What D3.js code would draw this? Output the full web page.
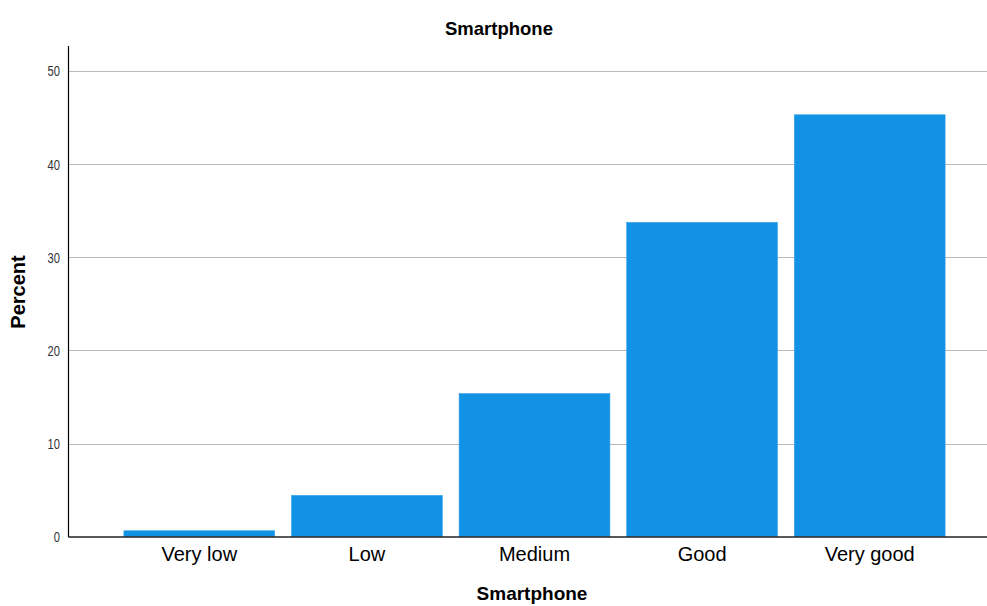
<!DOCTYPE html>
<html>
<head>
<meta charset="utf-8">
<script src="https://cdn.jsdelivr.net/npm/d3@7"></script>
<style>
  html, body { margin: 0; padding: 0; background: #fff; }
  svg { display: block; }
</style>
</head>
<body>
<svg id="chart" width="987" height="606"></svg>
<script>
const categories = ["Very low", "Low", "Medium", "Good", "Very good"];
const percents = [0.64, 4.44, 15.37, 33.75, 45.3];
const yTicks = [0, 10, 20, 30, 40, 50];
const chartTitle = "Smartphone";
const xTitle = "Smartphone";
const yTitle = "Percent";

const svg = d3.select("#chart");
const plotLeft = 68.5, plotRight = 987, plotTop = 46, zeroY = 536.7;

const y = d3.scaleLinear().domain([0, 50]).range([zeroY, 71]);
const x = d3.scaleBand().domain(categories)
  .range([115.5, 953.5]).paddingInner(0.1).paddingOuter(0.05);

// gridlines
svg.append("g").selectAll("line").data(yTicks.filter(d => d > 0)).join("line")
  .attr("x1", plotLeft).attr("x2", plotRight)
  .attr("y1", d => Math.round(y(d)) + 0.5).attr("y2", d => Math.round(y(d)) + 0.5)
  .attr("stroke", "#b9b9b9").attr("stroke-width", 1);

// bars
svg.append("g").selectAll("rect").data(categories).join("rect")
  .attr("x", d => x(d))
  .attr("width", x.bandwidth())
  .attr("y", (d, i) => y(percents[i]))
  .attr("height", (d, i) => zeroY - y(percents[i]))
  .attr("fill", "#1192e5")
  .attr("stroke", "#3aa3ea").attr("stroke-width", 0.6);

// y axis
const yAxis = d3.axisLeft(y).tickValues(yTicks).tickSize(0).tickPadding(0).tickFormat(d3.format("d"));
const gy = svg.append("g").attr("transform", `translate(${plotLeft},0)`).call(yAxis);
gy.select(".domain").remove();
gy.selectAll("text")
  .attr("x", 0)
  .attr("transform", "translate(-8.5,0) scale(0.8,1)")
  .attr("font-family", "'Liberation Sans Narrow', 'Liberation Sans', Arial, sans-serif")
  .attr("font-size", 14).attr("fill", "#333").attr("dy", "0.35em");

svg.append("line").attr("x1", plotLeft).attr("x2", plotLeft)
  .attr("y1", plotTop).attr("y2", zeroY + 0.5).attr("stroke", "#000").attr("stroke-width", 1.2);

// x axis
const xAxis = d3.axisBottom(x).tickSize(0).tickPadding(10);
const gx = svg.append("g").attr("transform", `translate(0,${zeroY})`).call(xAxis);
gx.select(".domain").remove();
gx.selectAll("text")
  .attr("font-family", "'Liberation Sans', Arial, sans-serif")
  .attr("font-size", 20).attr("fill", "#000");

svg.append("line").attr("x1", plotLeft).attr("x2", plotRight)
  .attr("y1", zeroY + 0.3).attr("y2", zeroY + 0.3).attr("stroke", "#222").attr("stroke-width", 1.4);

// titles
svg.append("text").attr("x", 499).attr("y", 35).attr("text-anchor", "middle")
  .attr("font-family", "'Liberation Sans', Arial, sans-serif").attr("font-weight", "bold")
  .attr("font-size", 18.5).text(chartTitle);

svg.append("text").attr("x", 532).attr("y", 600).attr("text-anchor", "middle")
  .attr("font-family", "'Liberation Sans', Arial, sans-serif").attr("font-weight", "bold")
  .attr("font-size", 19).text(xTitle);

svg.append("text").attr("transform", "translate(25,292) rotate(-90)").attr("text-anchor", "middle")
  .attr("font-family", "'Liberation Sans', Arial, sans-serif").attr("font-weight", "bold")
  .attr("font-size", 20).text(yTitle);
</script>
</body>
</html>
